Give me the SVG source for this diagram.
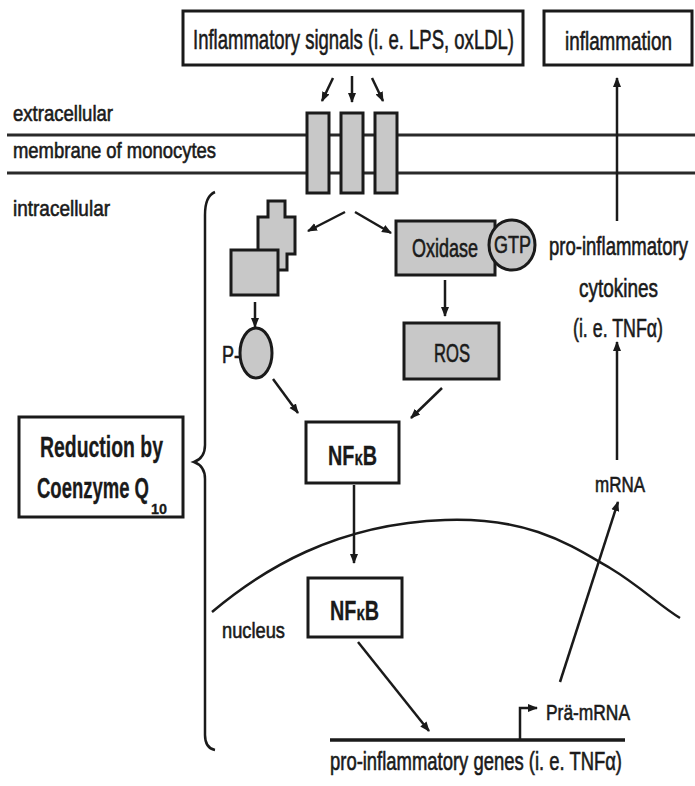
<svg xmlns="http://www.w3.org/2000/svg" width="695" height="786" viewBox="0 0 695 786">
<defs>
<marker id="ah" markerWidth="10" markerHeight="10" refX="9" refY="5" orient="auto" markerUnits="userSpaceOnUse">
<path d="M0,1 L10,5 L0,9 Z" fill="#1a1a1a"/>
</marker>
<style>
text{font-family:"Liberation Sans",Arial,sans-serif;fill:#1a1a1a;stroke:#1a1a1a;stroke-width:0.6}
.b{font-weight:bold;stroke-width:0.3}
.box{fill:#fff;stroke:#1a1a1a;stroke-width:3}
.gbox{fill:#c8c8c8;stroke:#1a1a1a;stroke-width:3}
.ln{fill:none;stroke:#1a1a1a;stroke-width:2.5}
.mem{fill:none;stroke:#2a2a2a;stroke-width:3}
</style>
</defs>
<rect width="695" height="786" fill="#fff"/>

<g id="membrane">
<line class="mem" x1="7" y1="135" x2="695" y2="135"/>
<line class="mem" x1="7" y1="173" x2="695" y2="173"/>
<text x="13" y="121" font-size="22" textLength="100" lengthAdjust="spacingAndGlyphs">extracellular</text>
<text x="13" y="158" font-size="22" textLength="203" lengthAdjust="spacingAndGlyphs">membrane of monocytes</text>
<text x="13" y="216" font-size="22" textLength="97" lengthAdjust="spacingAndGlyphs">intracellular</text>
</g>

<g id="signals">
<rect class="box" x="183" y="11" width="340" height="54"/>
<text x="193" y="49" font-size="28" textLength="321" lengthAdjust="spacingAndGlyphs">Inflammatory signals (i. e. LPS, oxLDL)</text>
</g>

<g id="inflammation">
<rect class="box" x="544" y="11" width="148" height="54"/>
<text x="565" y="50" font-size="26" textLength="107" lengthAdjust="spacingAndGlyphs">inflammation</text>
</g>

<g id="receptors">
<rect class="gbox" x="307" y="113" width="22" height="80"/>
<rect class="gbox" x="341" y="113" width="22" height="80"/>
<rect class="gbox" x="375" y="113" width="22" height="80"/>
</g>

<g id="kinase">
<polygon class="gbox" points="268,201 285,201 285,217 295,217 295,254 287,254 287,270 258,270 258,217 268,217"/>
<rect class="gbox" x="231" y="250" width="47" height="45"/>
</g>

<g id="phospho">
<ellipse class="gbox" cx="256" cy="353" rx="16" ry="25"/>
<text x="222" y="363" font-size="23" textLength="18" lengthAdjust="spacingAndGlyphs">P-</text>
</g>

<g id="oxidase">
<rect class="gbox" x="396" y="221" width="99" height="54"/>
<text x="412" y="257" font-size="25" textLength="66" lengthAdjust="spacingAndGlyphs">Oxidase</text>
<ellipse class="gbox" cx="512" cy="245" rx="23" ry="25"/>
<text x="494" y="253" font-size="23" textLength="37" lengthAdjust="spacingAndGlyphs">GTP</text>
</g>

<g id="ros">
<rect class="gbox" x="404" y="323" width="95" height="56"/>
<text x="434" y="362" font-size="25" textLength="36" lengthAdjust="spacingAndGlyphs">ROS</text>
</g>

<g id="nfkb1">
<rect class="box" x="306" y="422" width="93" height="61"/>
<text class="b" x="328" y="465" font-size="28" textLength="49" lengthAdjust="spacingAndGlyphs">NF<tspan font-size="21">κ</tspan>B</text>
</g>

<g id="nfkb2">
<rect class="box" x="308" y="578" width="94" height="59"/>
<text class="b" x="330" y="620" font-size="28" textLength="49" lengthAdjust="spacingAndGlyphs">NF<tspan font-size="21">κ</tspan>B</text>
</g>

<g id="reduction">
<rect class="box" x="19" y="417" width="164" height="100"/>
<text class="b" x="40" y="457" font-size="29" textLength="123" lengthAdjust="spacingAndGlyphs">Reduction by</text>
<text class="b" x="37" y="498" font-size="29" textLength="112" lengthAdjust="spacingAndGlyphs">Coenzyme Q</text>
<text class="b" x="151" y="514" font-size="15" textLength="16" lengthAdjust="spacingAndGlyphs">10</text>
</g>

<g id="cytokines">
<text x="549" y="255" font-size="25" textLength="139" lengthAdjust="spacingAndGlyphs">pro-inflammatory</text>
<text x="579" y="297" font-size="25" textLength="79" lengthAdjust="spacingAndGlyphs">cytokines</text>
<text x="573" y="337" font-size="25" textLength="90" lengthAdjust="spacingAndGlyphs">(i. e. TNFα)</text>
</g>

<g id="mrna">
<text x="595" y="492" font-size="22" textLength="50" lengthAdjust="spacingAndGlyphs">mRNA</text>
</g>

<g id="nucleus">
<path class="ln" d="M212,612 C262,570 335,524 445,520 C530,517 570,545 610,568 C640,586 660,606 680,618"/>
<text x="222" y="638" font-size="22" textLength="63" lengthAdjust="spacingAndGlyphs">nucleus</text>
</g>

<g id="genes">
<line x1="330" y1="740" x2="625" y2="740" stroke="#1a1a1a" stroke-width="3.5"/>
<text x="330" y="770" font-size="25" textLength="292" lengthAdjust="spacingAndGlyphs">pro-inflammatory genes (i. e. TNFα)</text>
<text x="546" y="720" font-size="22" textLength="84" lengthAdjust="spacingAndGlyphs">Prä-mRNA</text>
</g>

<g id="brace">
<path class="ln" d="M215,192 Q205,196 205,215 L205,445 Q205,458 194,462 Q205,466 205,479 L205,735 Q205,748 215,750"/>
</g>

<g id="connectors">
<line class="ln" x1="333" y1="78" x2="322" y2="101" marker-end="url(#ah)"/>
<line class="ln" x1="352" y1="76" x2="352" y2="102" marker-end="url(#ah)"/>
<line class="ln" x1="372" y1="78" x2="383" y2="101" marker-end="url(#ah)"/>
<line class="ln" x1="345" y1="212" x2="308" y2="231" marker-end="url(#ah)"/>
<line class="ln" x1="355" y1="212" x2="391" y2="233" marker-end="url(#ah)"/>
<line class="ln" x1="255" y1="302" x2="255" y2="327" marker-end="url(#ah)"/>
<line class="ln" x1="445" y1="280" x2="445" y2="316" marker-end="url(#ah)"/>
<line class="ln" x1="273" y1="379" x2="298" y2="413" marker-end="url(#ah)"/>
<line class="ln" x1="442" y1="388" x2="411" y2="418" marker-end="url(#ah)"/>
<line class="ln" x1="354" y1="485" x2="354" y2="563" marker-end="url(#ah)"/>
<line class="ln" x1="358" y1="642" x2="429" y2="731" marker-end="url(#ah)"/>
<polyline class="ln" points="520,740 520,708 537,708" marker-end="url(#ah)"/>
<line class="ln" x1="560" y1="682" x2="618" y2="502" marker-end="url(#ah)"/>
<line class="ln" x1="617" y1="460" x2="617" y2="342" marker-end="url(#ah)"/>
<line class="ln" x1="617" y1="221" x2="617" y2="78" marker-end="url(#ah)"/>
</g>
</svg>
